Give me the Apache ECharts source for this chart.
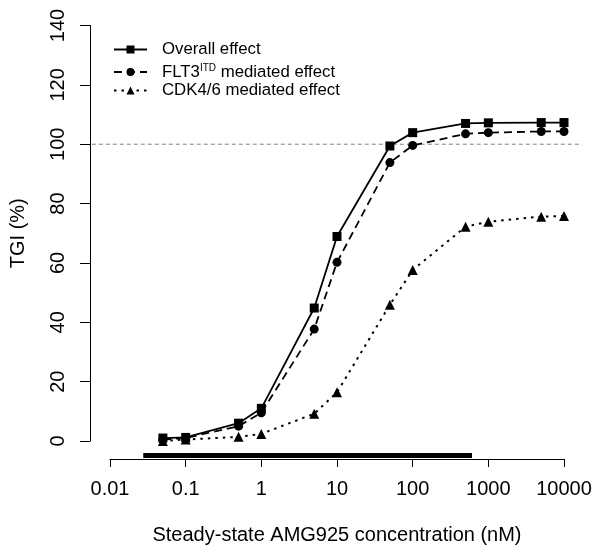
<!DOCTYPE html>
<html>
<head>
<meta charset="utf-8">
<script src="https://cdn.jsdelivr.net/npm/echarts@6/dist/echarts.min.js"></script>
<style>
html,body{margin:0;padding:0;background:#fff;}
#chart{width:601px;height:553px;}
</style>
</head>
<body>
<div id="chart"></div>
<script>
// concentrations (nM)
const concentrations = [0.05, 0.1, 0.5, 1, 5, 10, 50, 100, 500, 1000, 5000, 10000];
// TGI (%) values
const overallEffect = [1.0, 1.2, 6.0, 11.0, 44.8, 68.9, 99.4, 103.9, 107.0, 107.2, 107.3, 107.3];
const flt3Effect = [0.5, 1.0, 5.0, 9.5, 37.7, 60.2, 93.8, 99.6, 103.5, 103.9, 104.3, 104.3];
const cdkEffect = [0.0, 0.5, 1.4, 2.4, 9.2, 16.4, 45.9, 57.6, 72.2, 73.9, 75.6, 75.8];
// reference line at 100% spanning the whole plot region
const refLineX = [0.00575, 17378];
const refLineY = 100;
// thick concentration-range bar
const rangeBarX = [0.0275, 608];
const rangeBarY = -4.9;
// axis ticks
const xTickValues = [0.01, 0.1, 1, 10, 100, 1000, 10000];
const xTickLabels = ['0.01', '0.1', '1', '10', '100', '1000', '10000'];
const yTickValues = [0, 20, 40, 60, 80, 100, 120, 140];
const seriesNames = ['Overall effect', 'FLT3ITD mediated effect', 'CDK4/6 mediated effect'];

const FONT = '"Liberation Sans", Arial, sans-serif';
const LFS = 16.8;
const pair = (xs, ys) => xs.map((x, i) => [x, ys[i]]);

const chart = echarts.init(document.getElementById('chart'));

function legendFor(name, top) {
  return {
    data: [name],
    left: 113,
    top: top,
    padding: 0,
    itemWidth: 33,
    itemHeight: 10,
    itemGap: 0,
    selectedMode: false,
    textStyle: {
      fontFamily: FONT, fontSize: LFS, color: '#000',
      rich: {
        n: { fontFamily: FONT, fontSize: LFS, color: '#000' },
        p: { fontFamily: FONT, fontSize: LFS, color: '#000', padding: [0, 0, 0, 10] },
        s: { fontFamily: FONT, fontSize: 10, color: '#000', verticalAlign: 'top', padding: [0, 0, 8, 0] }
      }
    },
    formatter: function (n) {
      if (n === seriesNames[1]) return '{p|FLT3}{s|ITD}{n| mediated effect}';
      return '{p|' + n + '}';
    }
  };
}

const option = {
  animation: false,
  backgroundColor: '#fff',
  legend: [
    legendFor(seriesNames[0], 41),
    legendFor(seriesNames[1], 63),
    legendFor(seriesNames[2], 82)
  ],
  grid: [
    { left: 110, right: 37, top: 25.5, bottom: 112, containLabel: false },
    // full plotting region (axes extended by 4%), used for the reference line
    { left: 91.8, right: 18.8, top: 25.5, bottom: 112, containLabel: false }
  ],
  xAxis: [{
    type: 'log',
    logBase: 10,
    min: xTickValues[0],
    max: xTickValues[xTickValues.length - 1],
    interval: 1,
    offset: 18,
    gridIndex: 0,
    name: 'Steady-state AMG925 concentration (nM)',
    nameLocation: 'middle',
    nameGap: 66,
    nameTextStyle: { fontFamily: FONT, fontSize: 20, color: '#000' },
    axisLine: { show: true, onZero: false, lineStyle: { color: '#000', width: 1 } },
    axisTick: { show: true, length: 8, lineStyle: { color: '#000' } },
    axisLabel: {
      fontFamily: FONT, fontSize: 20, color: '#000', margin: 20,
      formatter: function (v) {
        let best = 0;
        for (let i = 0; i < xTickValues.length; i++) {
          if (Math.abs(Math.log10(xTickValues[i]) - Math.log10(v)) < Math.abs(Math.log10(xTickValues[best]) - Math.log10(v))) best = i;
        }
        return xTickLabels[best];
      }
    },
    splitLine: { show: false },
    minorTick: { show: false }
  }, {
    type: 'log', logBase: 10, gridIndex: 1,
    min: refLineX[0], max: refLineX[1], show: false
  }],
  yAxis: [{
    type: 'value',
    min: yTickValues[0],
    max: yTickValues[yTickValues.length - 1],
    interval: 20,
    offset: 20,
    gridIndex: 0,
    name: 'TGI (%)',
    nameLocation: 'middle',
    nameGap: 62,
    nameRotate: 90,
    nameTextStyle: { fontFamily: FONT, fontSize: 20, color: '#000' },
    axisLine: { show: true, onZero: false, lineStyle: { color: '#000', width: 1 } },
    axisTick: { show: true, length: 10, lineStyle: { color: '#000' } },
    axisLabel: { fontFamily: FONT, fontSize: 20, color: '#000', rotate: 90, margin: 22 },
    splitLine: { show: false }
  }, {
    type: 'value', gridIndex: 1,
    min: yTickValues[0], max: yTickValues[yTickValues.length - 1], show: false
  }],
  series: [
    {
      name: 'ref', type: 'line', data: pair(refLineX, [refLineY, refLineY]),
      xAxisIndex: 1, yAxisIndex: 1,
      clip: false, silent: true, symbol: 'none', z: 1,
      lineStyle: { color: '#808080', width: 1, type: [4, 3] }
    },
    {
      name: 'range', type: 'line', data: pair(rangeBarX, [rangeBarY, rangeBarY]),
      clip: false, silent: true, symbol: 'none', z: 1,
      lineStyle: { color: '#000', width: 5, cap: 'butt' }
    },
    {
      name: seriesNames[0], type: 'line', data: pair(concentrations, overallEffect),
      symbol: 'rect', symbolSize: 9, z: 3,
      itemStyle: { color: '#000' },
      lineStyle: { color: '#000', width: 1.8, type: 'solid' }
    },
    {
      name: seriesNames[1], type: 'line', data: pair(concentrations, flt3Effect),
      symbol: 'circle', symbolSize: 9, z: 3,
      itemStyle: { color: '#000' },
      lineStyle: { color: '#000', width: 1.8, type: [8, 5] }
    },
    {
      name: seriesNames[2], type: 'line', data: pair(concentrations, cdkEffect),
      symbol: 'triangle', symbolSize: 10, z: 3,
      itemStyle: { color: '#000' },
      lineStyle: { color: '#000', width: 2, type: [2.5, 5] }
    }
  ]
};
chart.setOption(option);
</script>
</body>
</html>
